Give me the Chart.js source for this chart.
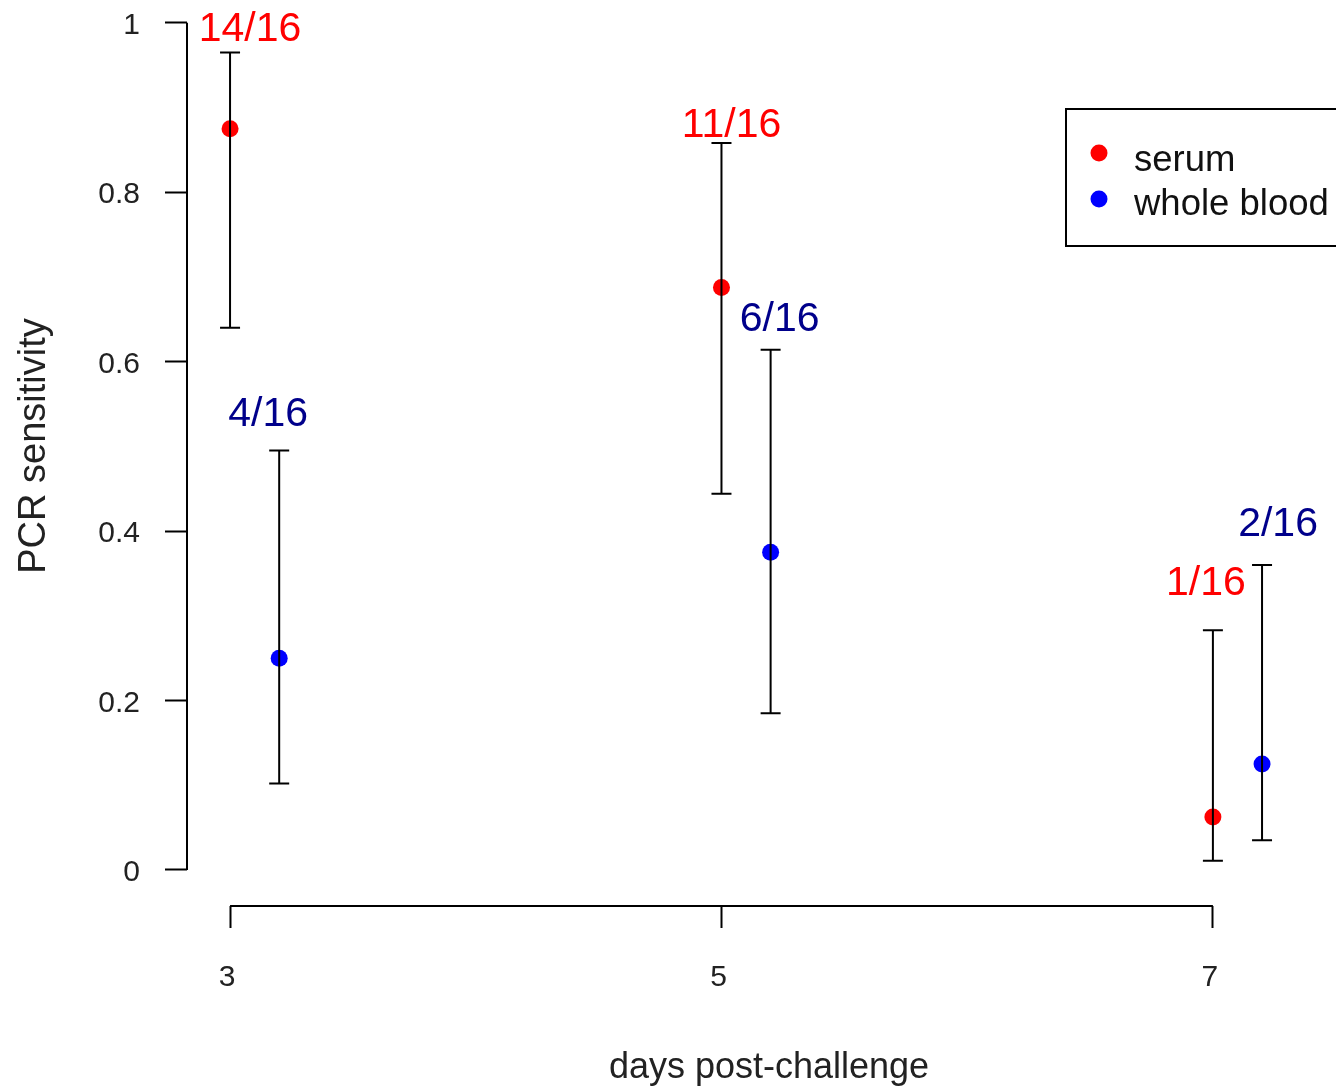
<!DOCTYPE html>
<html>
<head>
<meta charset="utf-8">
<title>PCR sensitivity</title>
<script src="https://cdn.jsdelivr.net/npm/chart.js@4.4.1/dist/chart.umd.min.js"></script>
<style>
    html, body { margin: 0; padding: 0; background: #fff; }
    canvas { display: block; }
</style>
</head>
<body>
<canvas id="pcrChart" width="1336" height="1088"></canvas>
<script>
// Datos: sensibilidad PCR por día post-challenge (n = 16 animales)
const nAnimals = 16;
const serumDays = [3, 5, 7];
const bloodDays = [3.2, 5.2, 7.2];
const serumPositive = [14, 11, 1];
const bloodPositive = [4, 6, 2];
const serumLower = [0.640, 0.444, 0.011];
const serumUpper = [0.965, 0.858, 0.283];
const bloodLower = [0.102, 0.185, 0.035];
const bloodUpper = [0.495, 0.614, 0.360];
const xTicks = [3, 5, 7];
const yTicks = [0, 0.2, 0.4, 0.6, 0.8, 1];

const FONT = '"Liberation Sans", Arial, sans-serif';
const TEXT_COLOR = '#222';

/**
 * Construir puntos {x, y} con la proporción de positivos
 */
function buildPoints(days, positives, lower, upper) {
    return days.map((d, i) => ({
        x: d,
        y: positives[i] / nAnimals,
        lo: lower[i],
        hi: upper[i],
        label: `${positives[i]}/${nAnimals}`
    }));
}

/**
 * Ejes estilo R: línea sólo entre el primer y último tick, más títulos
 */
const axisLinesPlugin = {
    id: 'axisLines',
    afterDraw(chart, args, opts) {
        const { ctx, chartArea, scales } = chart;
        const xs = scales.x, ys = scales.y;
        ctx.save();
        ctx.strokeStyle = '#000';
        ctx.lineWidth = 2;
        ctx.beginPath();
        ctx.moveTo(chartArea.left, ys.getPixelForValue(yTicks[0]));
        ctx.lineTo(chartArea.left, ys.getPixelForValue(yTicks[yTicks.length - 1]));
        ctx.moveTo(xs.getPixelForValue(xTicks[0]), chartArea.bottom);
        ctx.lineTo(xs.getPixelForValue(xTicks[xTicks.length - 1]), chartArea.bottom);
        ctx.stroke();

        // Títulos de los ejes
        ctx.fillStyle = TEXT_COLOR;
        ctx.textAlign = 'center';
        ctx.textBaseline = 'alphabetic';
        ctx.font = `36px ${FONT}`;
        ctx.fillText(opts.xTitle.text, opts.xTitle.x, opts.xTitle.y);

        ctx.translate(opts.yTitle.x, opts.yTitle.y);
        ctx.rotate(-Math.PI / 2);
        ctx.font = `38px ${FONT}`;
        ctx.fillText(opts.yTitle.text, 0, 0);
        ctx.restore();
    }
};

/**
 * Barras de error (intervalo de confianza) y etiquetas k/n
 */
const errorBarsPlugin = {
    id: 'errorBars',
    afterDatasetsDraw(chart, args, opts) {
        const { ctx, scales } = chart;
        const xs = scales.x, ys = scales.y;
        ctx.save();
        chart.data.datasets.forEach((ds, di) => {
            const offsets = opts.labelOffsets[di];
            ds.data.forEach((p, i) => {
                const px = xs.getPixelForValue(p.x);
                const pLo = ys.getPixelForValue(p.lo);
                const pHi = ys.getPixelForValue(p.hi);

                ctx.strokeStyle = '#000';
                ctx.lineWidth = 2;
                ctx.beginPath();
                ctx.moveTo(px, pLo);
                ctx.lineTo(px, pHi);
                ctx.moveTo(px - opts.capWidth, pLo);
                ctx.lineTo(px + opts.capWidth, pLo);
                ctx.moveTo(px - opts.capWidth, pHi);
                ctx.lineTo(px + opts.capWidth, pHi);
                ctx.stroke();

                ctx.fillStyle = ds.labelColor;
                ctx.font = `41px ${FONT}`;
                ctx.textAlign = 'center';
                ctx.textBaseline = 'alphabetic';
                ctx.fillText(p.label, px + offsets[i][0], pHi + offsets[i][1]);
            });
        });
        ctx.restore();
    }
};

/**
 * Leyenda con marco, dentro del área del gráfico
 */
const boxLegendPlugin = {
    id: 'boxLegend',
    afterDraw(chart, args, opts) {
        const { ctx } = chart;
        ctx.save();
        ctx.strokeStyle = '#000';
        ctx.lineWidth = 2;
        ctx.strokeRect(opts.x, opts.y, opts.width, opts.height);
        ctx.font = `36.5px ${FONT}`;
        ctx.textAlign = 'left';
        ctx.textBaseline = 'alphabetic';
        chart.data.datasets.forEach((ds, i) => {
            const row = opts.rows[i];
            ctx.fillStyle = ds.backgroundColor;
            ctx.beginPath();
            ctx.arc(opts.x + 33, row.dot, 8.5, 0, Math.PI * 2);
            ctx.fill();
            ctx.fillStyle = '#111';
            ctx.fillText(ds.label, opts.x + 68, row.text);
        });
        ctx.restore();
    }
};

const ctx = document.getElementById('pcrChart').getContext('2d');

const chart = new Chart(ctx, {
    type: 'scatter',
    data: {
        datasets: [
            {
                label: 'serum',
                data: buildPoints(serumDays, serumPositive, serumLower, serumUpper),
                backgroundColor: '#ff0000',
                labelColor: '#ff0000',
                borderWidth: 0,
                pointRadius: 8.5
            },
            {
                label: 'whole blood',
                data: buildPoints(bloodDays, bloodPositive, bloodLower, bloodUpper),
                backgroundColor: '#0000ff',
                labelColor: '#00008b',
                borderWidth: 0,
                pointRadius: 8.5
            }
        ]
    },
    options: {
        responsive: false,
        animation: false,
        devicePixelRatio: 1,
        layout: { padding: 0 },
        plugins: {
            legend: { display: false },
            tooltip: { enabled: false },
            axisLines: {
                xTitle: { text: 'days post-challenge', x: 769, y: 1078 },
                yTitle: { text: 'PCR sensitivity', x: 45, y: 446 }
            },
            errorBars: {
                capWidth: 10,
                labelOffsets: [
                    [[20, -11], [10, -6], [-7, -35]],
                    [[-11, -25], [9, -19], [16, -29]]
                ]
            },
            boxLegend: {
                x: 1066, y: 109, width: 300, height: 137,
                rows: [{ dot: 153, text: 171 }, { dot: 199, text: 215 }]
            }
        },
        scales: {
            x: {
                type: 'linear',
                // el área útil queda recortada 8.5 px a la derecha por el radio de los puntos
                min: 2.8248,
                max: 7.4664,
                afterBuildTicks: scale => {
                    scale.ticks = xTicks.map(v => ({ value: v }));
                },
                afterFit: scale => {
                    scale.height = 182;
                    scale.paddingLeft = 0;
                    scale.paddingRight = 0;
                },
                border: { display: false },
                grid: {
                    drawOnChartArea: false,
                    drawTicks: true,
                    tickLength: 22,
                    tickWidth: 2,
                    tickColor: '#000'
                },
                ticks: {
                    padding: 32,
                    labelOffset: -3,
                    color: TEXT_COLOR,
                    font: { family: FONT, size: 30 },
                    maxRotation: 0,
                    callback: v => String(v)
                }
            },
            y: {
                type: 'linear',
                min: -0.0425,
                max: 1.0168,
                afterBuildTicks: scale => {
                    scale.ticks = yTicks.map(v => ({ value: v }));
                },
                afterFit: scale => {
                    scale.width = 187;
                    scale.paddingTop = 0;
                    scale.paddingBottom = 0;
                },
                border: { display: false },
                grid: {
                    drawOnChartArea: false,
                    drawTicks: true,
                    tickLength: 22,
                    tickWidth: 2,
                    tickColor: '#000'
                },
                ticks: {
                    padding: 25,
                    labelOffset: 3,
                    color: TEXT_COLOR,
                    font: { family: FONT, size: 30 },
                    callback: v => String(Number(v.toFixed(1)))
                }
            }
        }
    },
    plugins: [axisLinesPlugin, errorBarsPlugin, boxLegendPlugin]
});
</script>
</body>
</html>
